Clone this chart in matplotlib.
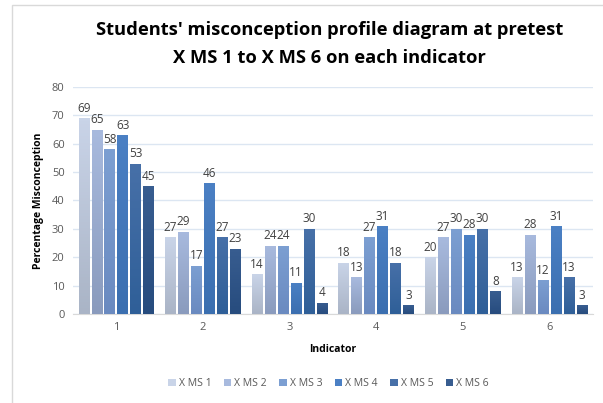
import matplotlib
matplotlib.use("Agg")
import matplotlib.pyplot as plt
import numpy as np
from matplotlib.colors import to_rgb
from matplotlib.patches import Rectangle

categories = ["1", "2", "3", "4", "5", "6"]
series_names = ["X MS 1", "X MS 2", "X MS 3", "X MS 4", "X MS 5", "X MS 6"]
ms1 = [69, 27, 14, 18, 20, 13]
ms2 = [65, 29, 24, 13, 27, 28]
ms3 = [58, 17, 24, 27, 30, 12]
ms4 = [63, 46, 11, 31, 28, 31]
ms5 = [53, 27, 30, 18, 30, 13]
ms6 = [45, 23, 4, 3, 8, 3]
series = [ms1, ms2, ms3, ms4, ms5, ms6]
top_colors = ["#c9d4e8", "#a8bade", "#7c9fd2", "#4b80c4", "#4770a8", "#385d90"]
bot_colors = ["#aab4c6", "#8a9bbd", "#6a8ac0", "#3b6fb0", "#2f5f98", "#274c7e"]

plt.rcParams['font.family'] = ['Open Sans', 'DejaVu Sans']
fig = plt.figure(figsize=(6.03, 4.03), dpi=100)
ax = fig.add_axes([0.121, 0.221, 0.862, 0.563])

# chart border
fig.patches.append(Rectangle((12/603, -0.1), 1.2, 1.1 - 5/403, transform=fig.transFigure,
                             fill=False, edgecolor="#d9d9d9", linewidth=1))

x = np.arange(len(categories))
step = 0.15
width = 0.122
handles = []
for i, (vals, name) in enumerate(zip(series, series_names)):
    pos = x + (i - 2.5) * step
    bars = ax.bar(pos, vals, width, color=top_colors[i], edgecolor="none", label=name, zorder=2)
    handles.append(bars)
    c1 = np.array(to_rgb(bot_colors[i]))
    c2 = np.array(to_rgb(top_colors[i]))
    for b, v, p in zip(bars, vals, pos):
        t = np.linspace(0, 1, 64)[:, None]
        img = (c1[None, :] * (1 - t) + c2[None, :] * t)[:, None, :]
        im = ax.imshow(img, extent=[p - width/2, p + width/2, 0, v], origin="lower",
                       aspect="auto", zorder=3)
        im.set_clip_path(b)
        ax.text(p, v + 1.2, str(v), ha="center", va="bottom", fontsize=8.5, color="#404040", zorder=4)

ax.set_xlim(-0.5, 5.5)
ax.set_ylim(0, 80)
ax.set_yticks(range(0, 81, 10))
ax.set_xticks(x)
ax.set_xticklabels(categories)
ax.tick_params(axis="both", length=0, labelsize=8, colors="#595959", pad=6)
ax.grid(axis="y", color="#dce6f2", linewidth=1, zorder=0)
ax.set_axisbelow(True)
for s in ["top", "right", "left"]:
    ax.spines[s].set_visible(False)
ax.spines["bottom"].set_color("#d9d9d9")
ax.set_ylabel("Percentage Misconception", fontsize=7.5, fontweight="bold", color="#000000", labelpad=6)
ax.set_xlabel("Indicator", fontsize=7.5, fontweight="bold", color="#000000", labelpad=8)

fig.text(0.547, 0.925, "Students' misconception profile diagram at pretest", ha="center", va="center",
         fontsize=13.2, fontweight="bold")
fig.text(0.547, 0.855, "X MS 1 to X MS 6 on each indicator", ha="center", va="center",
         fontsize=13.2, fontweight="bold")

fig.legend(handles, series_names, loc="center", bbox_to_anchor=(0.545, 0.048), ncol=6, frameon=False,
           fontsize=7.5, handlelength=0.7, handleheight=0.7, handletextpad=0.3, columnspacing=1.2,
           labelcolor="#595959")

fig.savefig("out.png", dpi=100)
